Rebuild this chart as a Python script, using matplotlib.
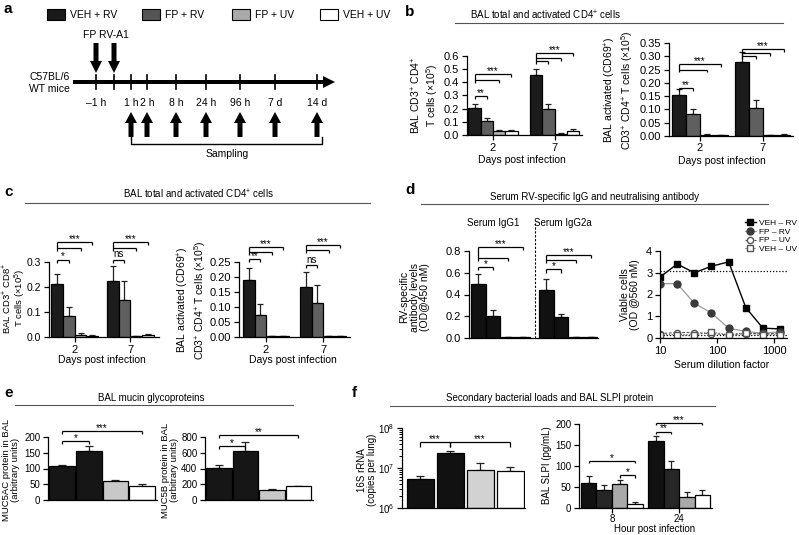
import matplotlib
matplotlib.use('Agg')
import matplotlib.pyplot as plt
import numpy as np
from matplotlib.lines import Line2D
from matplotlib.patches import FancyArrow, Rectangle

plt.rcParams.update({
    'font.family': ['Liberation Sans', 'DejaVu Sans'],
    'mathtext.fontset': 'custom',
    'mathtext.rm': 'Liberation Sans',
    'mathtext.it': 'Liberation Sans:italic',
    'mathtext.bf': 'Liberation Sans:bold',
    'axes.linewidth': 0.9,
    'xtick.major.width': 0.9, 'ytick.major.width': 0.9,
    'xtick.minor.width': 0.7, 'ytick.minor.width': 0.7,
    'xtick.major.size': 3.5, 'ytick.major.size': 3.5,
    'ytick.minor.size': 2.0,
    'xtick.major.pad': 2, 'ytick.major.pad': 2,
})

# ---------------- data ----------------
groups_legend = ['VEH + RV', 'FP + RV', 'FP + UV', 'VEH + UV']
timeline_labels = ['\u20131 h', '1 h', '2 h', '8 h', '24 h', '96 h', '7 d', '14 d']
days = ['2', '7']
hours = ['8', '24']

b1_mean = [[0.205, 0.108, 0.027, 0.028], [0.455, 0.195, 0.010, 0.030]]
b1_err = [[0.030, 0.020, 0.012, 0.012], [0.050, 0.040, 0.005, 0.012]]
b2_mean = [[0.155, 0.083, 0.005, 0.002], [0.280, 0.105, 0.002, 0.004]]
b2_err = [[0.020, 0.017, 0.002, 0.001], [0.035, 0.032, 0.001, 0.002]]
c1_mean = [[0.212, 0.085, 0.010, 0.005], [0.225, 0.150, 0.004, 0.009]]
c1_err = [[0.040, 0.037, 0.005, 0.002], [0.060, 0.073, 0.002, 0.004]]
c2_mean = [[0.190, 0.075, 0.003, 0.002], [0.168, 0.112, 0.003, 0.002]]
c2_err = [[0.040, 0.035, 0.001, 0.001], [0.050, 0.060, 0.001, 0.001]]
d_mean = [[0.50, 0.20, 0.005, 0.005], [0.445, 0.19, 0.005, 0.005]]
d_err = [[0.09, 0.06, 0.002, 0.002], [0.095, 0.035, 0.002, 0.002]]
d_groups = ['Serum IgG1', 'Serum IgG2a']

dilution = [10, 20, 40, 80, 160, 320, 640, 1280]
veh_rv = [2.8, 3.4, 3.0, 3.3, 3.5, 1.4, 0.45, 0.42]
fp_rv = [2.5, 2.5, 1.6, 1.15, 0.45, 0.30, 0.22, 0.28]
fp_uv = [0.20, 0.25, 0.25, 0.20, 0.15, 0.20, 0.20, 0.20]
veh_uv = [0.15, 0.15, 0.15, 0.27, 0.15, 0.25, 0.15, 0.15]
series_names = ['VEH \u2013 RV', 'FP \u2013 RV', 'FP \u2013 UV', 'VEH \u2013 UV']
ref_high, ref_low = 3.1, 0.15

muc5ac = [107, 157, 59, 46]
muc5ac_err = [4, 16, 5, 6]
muc5b = [410, 620, 130, 175]
muc5b_err = [40, 120, 8, 8]
rrna16s = [5.3e6, 2.4e7, 9.0e6, 8.3e6]
rrna16s_err = [0.9e6, 3.0e6, 4.0e6, 2.2e6]
slpi_mean = [[60, 43, 56, 10], [160, 92, 27, 31]]
slpi_err = [[17, 12, 11, 4], [11, 20, 12, 11]]

# significance annotations: (group, left bar, [(right bar, y), ...], text)
b1_sig = [(0, 0, [(1, 0.295)], '**'), (0, 0, [(3, 0.465), (2, 0.415)], '***'),
          (1, 0, [(3, 0.62), (2, 0.585), (1, 0.562)], '***')]
b2_sig = [(0, 0, [(1, 0.182)], '**'), (0, 0, [(3, 0.27), (2, 0.25)], '***'),
          (1, 0, [(3, 0.327), (2, 0.312), (1, 0.300)], '***')]
c1_sig = [(0, 0, [(1, 0.31)], '*'), (0, 0, [(3, 0.38), (2, 0.355)], '***'),
          (1, 0, [(1, 0.31)], 'ns'), (1, 0, [(3, 0.38), (2, 0.355)], '***')]
c2_sig = [(0, 0, [(1, 0.26)], '**'), (0, 0, [(3, 0.30), (2, 0.284)], '***'),
          (1, 0, [(1, 0.24)], 'ns'), (1, 0, [(3, 0.307), (2, 0.29)], '***')]
d1_sig = [(0, 0, [(1, 0.65)], '*'), (0, 0, [(3, 0.84), (2, 0.735)], '***'),
          (1, 0, [(1, 0.63)], '*'), (1, 0, [(3, 0.76), (2, 0.72)], '***')]
e1_sig = [(0, 0, [(1, 186)], '*'), (0, 0, [(3, 218)], '***')]
e2_sig = [(0, 0, [(1, 680)], '*'), (0, 0, [(3, 822)], '**')]
f1_sig = [(0, 0, [(1, 4.5e7)], '***'), (0, 1, [(3, 4.5e7)], '***')]
f2_sig = [(0, 0, [(3, 112)], '*'), (0, 2, [(3, 78)], '*'),
          (1, 0, [(1, 182)], '**'), (1, 0, [(3, 203)], '***')]

col4 = ['#1c1c1c', '#5f5f5f', '#b4b4b4', '#ffffff']
col_d = ['#111111'] * 4
col_e = ['#161616', '#161616', '#c8c8c8', '#ffffff']
col_f1 = ['#111111', '#111111', '#d2d2d2', '#ffffff']
col_f2 = ['#111111', '#262626', '#a9a9a9', '#ffffff']

# ---------------- helpers ----------------
W, H = 799, 535
fig = plt.figure(figsize=(W / 100, H / 100), dpi=100)


def add_ax(l, t, r, b):
    ax = fig.add_axes([l / W, 1 - b / H, (r - l) / W, (b - t) / H])
    ax.spines['top'].set_visible(False)
    ax.spines['right'].set_visible(False)
    return ax


def ftext(x, y, s, **kw):
    fig.text(x / W, 1 - y / H, s, **kw)


def fline(x1, x2, y, color='#555555', lw=0.8):
    fig.add_artist(Line2D([x1 / W, x2 / W], [1 - y / H, 1 - y / H],
                          transform=fig.transFigure, color=color, lw=lw))


def grouped(ax, means, errs, colors, width, ecol='#222222'):
    means = np.asarray(means, float)
    errs = np.asarray(errs, float)
    for g in range(means.shape[0]):
        xs = g + (np.arange(4) - 1.5) * width
        ax.bar(xs, means[g], width, color=colors, edgecolor='black',
               linewidth=0.9, zorder=2)
        ax.errorbar(xs, means[g], yerr=[np.zeros(4), errs[g]], fmt='none',
                    ecolor=ecol, elinewidth=0.9, capsize=2.5, capthick=0.9,
                    zorder=1)


def xpos(g, i, width, grouped_mode=True):
    if grouped_mode:
        return g + (i - 1.5) * width
    return i


def brackets(ax, sig, width, tick, grouped_mode=True, log=False, fs=7):
    for g, il, segs, text in sig:
        xl = xpos(g, il, width, grouped_mode)
        ys = [y for _, y in segs]
        top = max(ys)
        low = min(ys)
        lowend = low / tick if log else low - tick
        ax.plot([xl, xl], [lowend, top], color='k', lw=0.9, clip_on=False,
                solid_capstyle='butt')
        xr_top = xl
        for ir, y in segs:
            xr = xpos(g, ir, width, grouped_mode)
            yend = y / tick if log else y - tick
            ax.plot([xl, xr], [y, y], color='k', lw=0.9, clip_on=False,
                    solid_capstyle='butt')
            ax.plot([xr, xr], [y, yend], color='k', lw=0.9, clip_on=False,
                    solid_capstyle='butt')
            if y == top:
                xr_top = xr
        off = 1.5 if text == 'ns' else 0.0
        ax.annotate(text, xy=((xl + xr_top) / 2, top), xytext=(0, off),
                    textcoords='offset points', ha='center', va='baseline',
                    fontsize=fs, annotation_clip=False)


# ---------------- panel a (schematic) ----------------
aa = fig.add_axes([0, 1 - 180 / H, 400 / W, 180 / H])
aa.set_xlim(0, 400)
aa.set_ylim(180, 0)
aa.axis('off')
ftext(4, 9, 'a', fontsize=11, fontweight='bold', va='center')
leg_box_x = [47, 142, 232, 320]
leg_cols = ['#1a1a1a', '#555555', '#aaaaaa', '#ffffff']
for bx, lab, c in zip(leg_box_x, groups_legend, leg_cols):
    aa.add_patch(Rectangle((bx, 9), 18, 11, facecolor=c, edgecolor='black', lw=0.8))
    aa.text(bx + 23, 14.5, lab, fontsize=7.5, va='center', ha='left')

aa.add_patch(FancyArrow(73, 82, 262, 0, width=4, head_width=12, head_length=12,
                        length_includes_head=True, color='black', lw=0))
tl_x = [96, 131, 147, 176, 206, 240, 275, 317]
for x in tl_x + [114]:
    aa.plot([x, x], [75, 89], color='black', lw=1.2)
for x, lab in zip(tl_x, timeline_labels):
    aa.text(x, 103, lab, fontsize=7.5, ha='center', va='center')
for x in [96, 114]:
    aa.add_patch(FancyArrow(x, 43, 0, 30, width=5, head_width=12, head_length=12,
                            length_includes_head=True, color='black', lw=0))
aa.text(106, 35, 'FP RV-A1', fontsize=7.5, ha='center', va='center')
aa.text(70, 83, 'C57BL/6\nWT mice', fontsize=7.5, ha='right', va='center',
        linespacing=1.25)
for x in tl_x[1:]:
    aa.add_patch(FancyArrow(x, 137, 0, -25, width=5, head_width=12, head_length=11,
                            length_includes_head=True, color='black', lw=0))
aa.plot([131, 131, 322, 322], [137, 144, 144, 137], color='black', lw=1.0)
aa.text(227, 154, 'Sampling', fontsize=7.5, ha='center', va='center')

# ---------------- panel b ----------------
ftext(405, 12, 'b', fontsize=11, fontweight='bold', va='center')
ftext(545, 15, 'BAL total and activated CD4$^{+}$ cells', fontsize=7, ha='center', va='center')
fline(455, 783, 23)

ax = add_ax(467, 56, 582, 135)
grouped(ax, b1_mean, b1_err, col4, 0.2)
ax.set_xlim(-0.423, 1.447)
ax.set_ylim(0, 0.6)
ax.set_yticks(np.arange(0, 0.61, 0.1))
ax.set_yticklabels([f'{v:.1f}' for v in np.arange(0, 0.61, 0.1)], fontsize=8)
ax.set_xticks([0, 1])
ax.set_xticklabels(days, fontsize=8)
brackets(ax, b1_sig, 0.2, 0.022)
ftext(522, 160, 'Days post infection', fontsize=7.5, ha='center', va='center')
ftext(425, 95, 'BAL CD3$^{+}$ CD4$^{+}$\nT cells (\u00d710$^{5}$)', fontsize=7.5,
      rotation=90, ha='center', va='center', linespacing=1.05)

ax = add_ax(669, 43, 793, 136)
grouped(ax, b2_mean, b2_err, col4, 0.22)
ax.set_xlim(-0.49, 1.48)
ax.set_ylim(0, 0.35)
ax.set_yticks(np.arange(0, 0.351, 0.05))
ax.set_yticklabels([f'{v:.2f}' for v in np.arange(0, 0.351, 0.05)], fontsize=8)
ax.set_xticks([0, 1])
ax.set_xticklabels(days, fontsize=8)
ax.tick_params(axis='x', pad=1.5)
brackets(ax, b2_sig, 0.22, 0.011)
ftext(722, 161, 'Days post infection', fontsize=7.5, ha='center', va='center')
act_lab = 'BAL activated (CD69$^{+}$)\nCD3$^{+}$ CD4$^{+}$ T cells (\u00d710$^{5}$)'
ftext(619, 90, act_lab, fontsize=7.5, rotation=90, ha='center', va='center',
      linespacing=1.05)

# ---------------- panel c ----------------
ftext(4, 192, 'c', fontsize=11, fontweight='bold', va='center')
ftext(198, 194, 'BAL total and activated CD4$^{+}$ cells', fontsize=7, ha='center', va='center')
fline(25, 370, 203)

ax = add_ax(49, 262, 159, 337)
grouped(ax, c1_mean, c1_err, col4, 0.21)
ax.set_xlim(-0.464, 1.518)
ax.set_ylim(0, 0.3)
ax.set_yticks(np.arange(0, 0.31, 0.1))
ax.set_yticklabels([f'{v:.1f}' for v in np.arange(0, 0.31, 0.1)], fontsize=7.5)
ax.set_xticks([0, 1])
ax.set_xticklabels(days, fontsize=8)
brackets(ax, c1_sig, 0.21, 0.012)
ftext(102, 360, 'Days post infection', fontsize=7.5, ha='center', va='center')
ftext(14, 298, 'BAL CD3$^{+}$ CD8$^{+}$\nT cells (\u00d710$^{5}$)', fontsize=6.8,
      rotation=90, ha='center', va='center', linespacing=1.0)

ax = add_ax(239, 262, 350, 337)
grouped(ax, c2_mean, c2_err, col4, 0.2)
ax.set_xlim(-0.474, 1.474)
ax.set_ylim(0, 0.25)
ax.set_yticks(np.arange(0, 0.251, 0.05))
ax.set_yticklabels([f'{v:.2f}' for v in np.arange(0, 0.251, 0.05)], fontsize=8)
ax.set_xticks([0, 1])
ax.set_xticklabels(days, fontsize=8)
brackets(ax, c2_sig, 0.2, 0.01)
ftext(293, 360, 'Days post infection', fontsize=7.5, ha='center', va='center')
ftext(192, 300, act_lab, fontsize=7.5, rotation=90, ha='center', va='center',
      linespacing=1.05)

# ---------------- panel d ----------------
ftext(405, 190, 'd', fontsize=11, fontweight='bold', va='center')
ftext(595, 197, 'Serum RV-specific IgG and neutralising antibody', fontsize=7,
      ha='center', va='center')
fline(421, 768, 204)

ax = add_ax(469, 251, 598, 338)
grouped(ax, d_mean, d_err, col_d, 0.22)
ax.set_xlim(-0.463, 1.434)
ax.set_ylim(0, 0.8)
ax.set_yticks(np.arange(0, 0.81, 0.2))
ax.set_yticklabels([f'{v:.1f}' for v in np.arange(0, 0.81, 0.2)], fontsize=8)
ax.set_xticks([])
brackets(ax, d1_sig, 0.22, 0.028)
ax.plot([0.507, 0.507], [0, 1.07], color='black', lw=0.8, ls=(0, (2, 1.5)),
        clip_on=False)
for gx, lab in zip([-0.11, 0.92], d_groups):
    ax.text(gx, 1.057, lab, fontsize=7, ha='center', va='center')
ftext(415, 297, 'RV-specific\nantibody levels\n(OD@450 nM)', fontsize=7.5,
      rotation=90, ha='center', va='center', linespacing=1.05)

ax = add_ax(660, 251, 787, 338)
ax.set_xscale('log')
ax.axhline(ref_high, color='black', lw=0.9, ls=(0, (1, 1.5)))
ax.axhline(ref_low, color='black', lw=0.9, ls=(0, (1, 1.5)))
h1, = ax.plot(dilution, veh_rv, '-s', color='black', ms=4.5, lw=1.0)
h2, = ax.plot(dilution, fp_rv, '-', color='#9a9a9a', lw=0.9, marker='o', ms=5,
              mfc='#3a3a3a', mec='#3a3a3a')
h3, = ax.plot(dilution, fp_uv, '--', color='#555555', lw=0.8, marker='o', ms=4.5,
              mfc='white', mec='#555555', dashes=(2.5, 1.5))
h4, = ax.plot(dilution, veh_uv, ':', color='#555555', lw=0.8, marker='s', ms=4,
              mfc='white', mec='#555555')
ax.set_xlim(10, 10 ** (1 + 127 / 57))
ax.set_ylim(0, 4)
ax.set_yticks([0, 1, 2, 3, 4])
ax.set_yticklabels(['0', '1', '2', '3', '4'], fontsize=8)
ax.set_xticks([10, 100, 1000])
ax.set_xticklabels(['10', '100', '1000'], fontsize=8)
ax.xaxis.set_minor_locator(matplotlib.ticker.NullLocator())
ax.legend([h1, h2, h3, h4], series_names, loc='upper left',
          bbox_to_anchor=(745 / W, 1 - 219 / H), bbox_transform=fig.transFigure,
          frameon=False, fontsize=6, handlelength=1.3, handletextpad=0.4,
          labelspacing=0.12, borderpad=0, borderaxespad=0)
ftext(722, 365, 'Serum dilution factor', fontsize=7.5, ha='center', va='center')
ftext(630, 295, 'Viable cells\n(OD @560 nM)', fontsize=7.5, rotation=90,
      ha='center', va='center', linespacing=1.05)

# ---------------- panel e ----------------
ftext(4, 393, 'e', fontsize=11, fontweight='bold', va='center')
ftext(151, 398, 'BAL mucin glycoproteins', fontsize=7, ha='center', va='center')
fline(15, 293, 405)

for (l, r), vals, errs, sig, top, step, tick, ylab, lx in [
        ((48, 157), muc5ac, muc5ac_err, e1_sig, 200, 50, 8,
         'MUC5AC protein in BAL\n(arbitrary units)', 11),
        ((205, 313), muc5b, muc5b_err, e2_sig, 800, 200, 30,
         'MUC5B protein in BAL\n(arbitrary units)', 170)]:
    ax = add_ax(l, 437, r, 500)
    xs = np.arange(4)
    ax.bar(xs, vals, 0.96, color=col_e, edgecolor='black', linewidth=0.9, zorder=2)
    ax.errorbar(xs, vals, yerr=[np.zeros(4), errs], fmt='none', ecolor='#222222',
                elinewidth=0.9, capsize=3, capthick=0.9, zorder=1)
    ax.set_xlim(-0.52, 3.55)
    ax.set_ylim(0, top)
    ax.set_yticks(np.arange(0, top + 1, step))
    ax.set_yticklabels([str(int(v)) for v in np.arange(0, top + 1, step)], fontsize=7)
    ax.set_xticks([])
    brackets(ax, sig, 1, tick, grouped_mode=False)
    ftext(lx, 470, ylab, fontsize=6.8, rotation=90, ha='center', va='center',
          linespacing=1.0)

# ---------------- panel f ----------------
ftext(352, 393, 'f', fontsize=11, fontweight='bold', va='center')
ftext(550, 398, 'Secondary bacterial loads and BAL SLPI protein', fontsize=7,
      ha='center', va='center')
fline(390, 715, 406)

ax = add_ax(402, 428, 525, 508)
ax.set_yscale('log')
xs = np.arange(4)
ax.bar(xs, np.array(rrna16s) - 1e6, 0.9, bottom=1e6, color=col_f1, edgecolor='black',
       linewidth=0.9, zorder=2)
ax.errorbar(xs, rrna16s, yerr=[np.zeros(4), rrna16s_err], fmt='none', ecolor='#222222',
            elinewidth=0.9, capsize=3, capthick=0.9, zorder=1)
ax.set_xlim(-0.6, 3.5)
ax.set_ylim(1e6, 1e8)
ax.set_yticks([1e6, 1e7, 1e8])
ax.set_yticklabels(['10$^{6}$', '10$^{7}$', '10$^{8}$'], fontsize=7)
ax.yaxis.set_minor_locator(matplotlib.ticker.LogLocator(base=10, subs=np.arange(2, 10)))
ax.yaxis.set_minor_formatter(matplotlib.ticker.NullFormatter())
ax.set_xticks([])
brackets(ax, f1_sig, 1, 1.35, grouped_mode=False, log=True)
ftext(367, 470, '16S rRNA\n(copies per lung)', fontsize=7, rotation=90,
      ha='center', va='center', linespacing=1.05)

ax = add_ax(579, 424, 712, 508)
grouped(ax, slpi_mean, slpi_err, col_f2, 0.23)
ax.set_xlim(-0.49, 1.49)
ax.set_ylim(0, 200)
ax.set_yticks(np.arange(0, 201, 50))
ax.set_yticklabels([str(v) for v in range(0, 201, 50)], fontsize=7)
ax.set_xticks([0, 1])
ax.set_xticklabels(hours, fontsize=7)
ax.tick_params(axis='x', pad=1)
brackets(ax, f2_sig, 0.23, 6)
ftext(655, 529, 'Hour post infection', fontsize=7, ha='center', va='center')
ftext(547, 465, 'BAL SLPI (pg/mL)', fontsize=7, rotation=90, ha='center', va='center')

fig.savefig('out.png', dpi=100)
